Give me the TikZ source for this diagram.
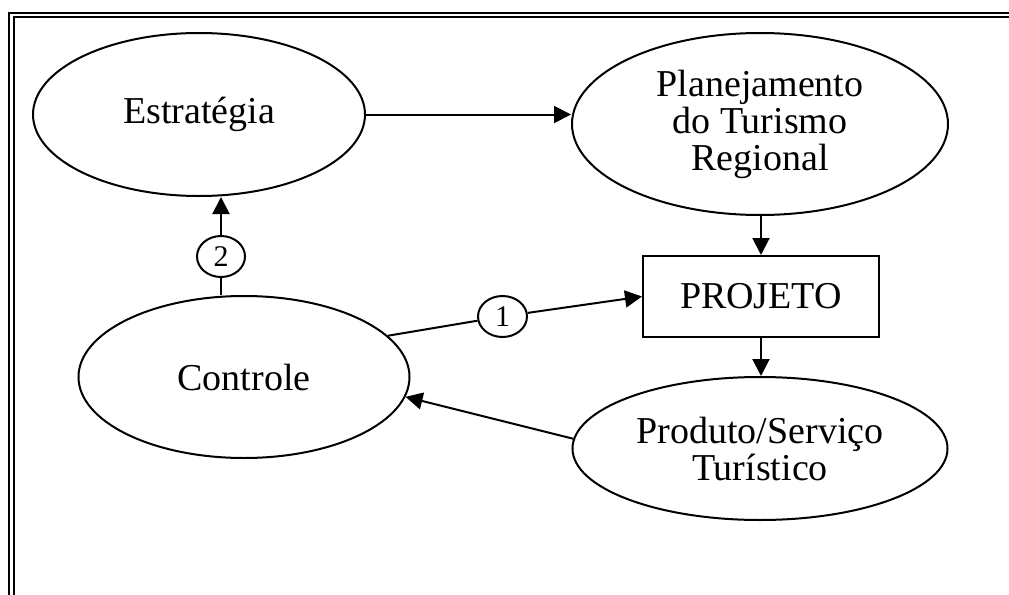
\documentclass[tikz,border=0pt]{standalone}
\usepackage{fontspec}
\setmainfont{Liberation Serif}
\usetikzlibrary{arrows.meta, shapes.geometric, calc}
\tikzset{
    etapa/.style={draw, ellipse, line width=1pt, inner sep=0pt, align=center,
        font=\fontsize{19}{18.5}\selectfont},
    caixa/.style={draw, rectangle, line width=1pt, inner sep=0pt, align=center,
        font=\fontsize{19}{18.5}\selectfont},
    passo/.style={draw, ellipse, line width=1pt, inner sep=0pt,
        minimum width=24pt, minimum height=20.5pt, font=\fontsize{15}{15}\selectfont},
    liga/.style={line width=1pt},
    seta/.style={line width=1pt, -{Triangle[length=8.5pt, width=8.5pt]}},
    moldura/.style={line width=1pt}
}
\begin{document}
\begin{tikzpicture}[x=0.5pt, y=-0.5pt]
    \useasboundingbox (0,0) rectangle (1009,595);
    % double frame
    \draw[moldura] (9,595) -- (9,12.5) -- (1009,12.5);
    \draw[moldura] (14,595) -- (14,16.5) -- (1009,16.5);
    \node[etapa, minimum width=166pt, minimum height=81.5pt] (est) at (199,114.5) {Estratégia};
    \node[etapa, minimum width=188pt, minimum height=91pt] (plan) at (760,124)
        {Planejamento\\do Turismo\\Regional};
    \node[caixa, minimum width=118pt, minimum height=40.5pt] (proj) at (761,296.5) {PROJETO};
    \node[etapa, minimum width=165.5pt, minimum height=81pt] (ctrl) at (244,377) {Controle};
    \node[etapa, minimum width=187.5pt, minimum height=71.5pt] (prod) at (760,448.5)
        {Produto/Serviço\\Turístico};
    \node[passo] (c2) at (221,256.5) {2};
    \node[passo, minimum width=24.5pt] (c1) at (502.5,316.5) {1};
    \draw[seta] (est.east) -- (est.east -| plan.west);
    \draw[seta] (plan.south -| proj.north) -- (proj.north);
    \draw[seta] (proj.south) -- (proj.south |- prod.north);
    \draw[seta] (prod.177) -- (ctrl.-7);
    \draw[liga] (ctrl.16) -- (c1);
    \draw[seta] (c1) -- (proj.west);
    \draw[liga] (c2 |- ctrl.north) -- (c2);
    \draw[seta] (c2) -- (c2 |- est.south);
\end{tikzpicture}
\end{document}
